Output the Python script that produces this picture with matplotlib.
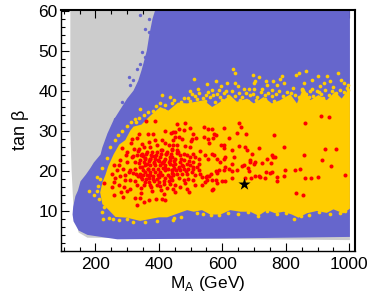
import matplotlib
matplotlib.use("Agg")
import matplotlib.pyplot as plt
from matplotlib.ticker import MultipleLocator

plt.rcParams["font.family"] = ["Liberation Sans", "DejaVu Sans"]
plt.rcParams["mathtext.fontset"] = "custom"
plt.rcParams["mathtext.rm"] = "Liberation Sans"

# obszary (M_A, tan beta)
gray_x = [121, 400, 1002, 1002, 175, 147, 130, 125, 121]
gray_y = [60.3, 60.3, 60.3, 2.6, 3.2, 4.5, 12, 20, 30]

blue_x = [389, 380, 370, 362, 352, 345, 335, 320, 300, 284, 257, 238, 222, 216, 195, 184, 170, 153, 145, 137, 130, 128,
          131, 147, 175, 269, 600, 1002, 1002]
blue_y = [60.3, 58, 54, 50, 47, 45, 42.5, 40, 38, 36, 32.6, 29.3, 25.8, 24, 22, 20.6, 19, 17.3, 15, 13.6, 11, 9,
          7.3, 5, 3.9, 2.8, 3.0, 3.4, 60.3]

yellow_x = [215, 222, 232, 240, 257, 275, 294, 310, 320, 345, 370, 404, 430, 460, 489, 541, 568, 594, 625, 646,
            678, 699, 730, 756, 782, 814, 835, 856, 877, 903, 929, 955, 976, 999, 1002, 1002, 999, 981, 950, 929, 898,
            866, 840, 819, 793, 767, 741, 714, 688, 657, 625, 594, 562, 536, 510, 489, 426, 400, 341, 300, 263, 240,
            222]
yellow_y = [14.5, 17, 19, 21, 24, 26.5, 27.6, 30, 31, 31.5, 33.5, 35.9, 35, 37, 36.8, 37.6, 35.9, 37.2, 38.8, 37.2,
            38, 36.8, 38.4, 36.8, 37.6, 39.1, 36.8, 40.8, 37.6, 38.9, 37.6, 39.7, 38, 40.5, 40, 10.5, 10.3, 9.3, 10.3,
            9.4, 9.9, 9.3, 8.2, 9, 9.7, 9.3, 10.1, 8.7, 9.7, 9.7, 10.1, 9, 9, 10.1, 9.7, 10.1, 8.3, 8.3,
            7.4, 8.2, 8.4, 10.3, 11.6]

# pojedyncze punkty poza obszarami
blue_pts_x = [341, 368, 357, 368, 347, 357, 341, 331, 305, 320, 310, 284, 289, 263]
blue_pts_y = [58.8, 58, 55.5, 54.7, 49.6, 48.4, 46.7, 45.5, 43.4, 42.6, 41.3, 37.2, 35.9, 33]

yellow_pts_x = [633, 639, 698, 715, 704, 699, 737, 741, 760, 788, 782, 794, 772, 833, 842, 864, 902, 931, 963, 882,
                940, 974, 982, 997, 856, 512, 553, 580, 616, 639, 597, 648, 499, 524, 554, 568, 589, 613, 669, 685,
                701, 725, 756, 822, 908, 921, 851, 882, 903, 950, 992, 411, 434, 441, 415, 341, 326, 368, 457, 225,
                206, 181, 194, 206, 300,
                # gesta strefa przy gornej krawedzi
                492, 503, 515, 527, 538, 549, 560, 571, 583, 594, 606, 617, 629, 641, 652, 663, 675, 687, 698, 710,
                722, 733, 745, 757, 769, 780, 792, 803, 816, 828, 840, 852, 864, 875, 887, 899, 911, 923, 935, 947,
                959, 971, 983, 995, 497, 521, 545, 577, 600, 622, 655, 680, 706, 735, 762, 790, 812, 846, 872, 895,
                918, 944, 968, 990,
                # lewy brzeg
                285, 298, 312, 327, 338, 352, 366, 380, 392, 405, 420, 447, 470, 480, 262, 272, 247, 235, 222, 214,
                208, 212, 220, 228, 243, 256, 275, 318, 355, 395, 448,
                # dolny brzeg
                540, 565, 590, 618, 648, 680, 712, 742, 772, 800, 825, 848, 872, 905, 938, 972, 985, 520, 470, 445]
yellow_pts_y = [45.5, 44.5, 44, 43.3, 42.4, 41.8, 42.5, 41.4, 42.4, 43.6, 42.8, 41.9, 41.3, 43.8, 44.5, 44.9, 43.6,
                43.7, 44.5, 42.6, 42.4, 42.6, 41.8, 41.5, 41.9, 43, 41.6, 42.5, 42, 42, 41.2, 41.1, 39.9, 40.3, 39.6,
                40.1, 40.1, 39.9, 40.3, 40.3, 40.4, 40.3, 40.1, 40.6, 41.1, 41.8, 40.5, 40.5, 39.7, 40.8, 40.7, 39,
                38.3, 36.8, 35.1, 35.4, 33, 33, 35.9, 7.9, 18.5, 15, 13.8, 14.8, 8,
                38.2, 39.1, 38.6, 39.3, 38.1, 38.8, 38.3, 38.9, 39.2, 38.4, 39.4, 38.6, 39.8, 38.7, 39.3, 38.5, 39.5,
                38.9, 39.2, 38.4, 39.7, 38.8, 39.4, 38.7, 39.1, 39.9, 38.6, 39.6, 39.5, 38.9, 38.5, 40.2, 39.1, 39.8,
                38.7, 40, 39.2, 40.1, 38.9, 39.9, 39.3, 40.2, 39.6, 40.1, 37.4, 37.8, 37.3, 37.1, 37.6, 37.9, 37.7,
                37.5, 37.6, 37.9, 37.4, 37.7, 37.9, 38, 38.3, 37.9, 38.2, 38.1, 37.8, 38.4,
                29.8, 31.2, 32.2, 32.1, 33.2, 33.8, 34.6, 34.9, 36.2, 37, 36.5, 37.6, 37.2, 38.2, 27.7, 28.8, 25.8,
                23.2, 20.6, 17.8, 16.1, 12.9, 9.6, 10.9, 8.2, 7.9, 7.6, 7.2, 7.1, 7.4, 8.1,
                9.2, 8.9, 8.8, 9.5, 9.1, 9.7, 8.7, 9.8, 9.2, 9.4, 8, 8.7, 9, 9.6, 9.2, 9.4, 9.8, 9.5, 8.5, 7.7]

red_x = [912, 935, 859, 764, 794, 924, 957, 856, 755, 766, 761, 742, 915, 726, 752, 943, 796, 830, 846, 738, 755, 750,
         985, 719, 734, 772, 795, 859, 878, 901, 773, 831, 853,
         456, 483, 543, 554, 567, 604, 651, 660, 645, 675, 499, 479, 462, 452, 439, 575, 580, 509, 518, 504, 502, 543,
         556, 572, 622, 557, 595, 604, 605, 654, 671, 714, 630, 677, 692, 638, 686, 703, 700, 687, 629, 661, 668, 645,
         622, 630, 604, 607, 567, 575, 583, 593, 607, 604, 588, 583, 559, 567, 553, 535, 544, 527, 530, 546, 556, 509,
         499, 481, 472, 462, 452, 444, 457, 441, 457, 467, 478, 488, 499, 514, 525, 509, 499, 488, 478, 467, 452, 441,
         446, 462, 478, 493, 509, 525, 520, 504, 488, 472, 457, 441, 446, 462, 478, 493, 509, 514, 530, 483, 467, 452,
         441, 446, 452, 490, 496, 514, 535, 567, 572, 598, 609, 630, 672, 690, 703, 714, 549, 580, 583, 564, 553, 580,
         682, 684,
         358, 387, 338, 365, 383, 420, 446, 315, 331, 347, 368, 389, 410, 431, 446, 420, 300, 321, 336, 352, 373, 394,
         279, 258, 273, 300, 315, 331, 347, 362, 378, 394, 410, 425, 441, 326, 342, 357, 373, 389, 404, 420, 436, 252,
         268, 310, 326, 342, 357, 373, 389, 404, 420, 436, 263, 279, 294, 342, 357, 373, 389, 404, 420, 441, 226, 258,
         273, 294, 310, 326, 347, 368, 383, 399, 420, 436, 252, 289, 310, 331, 352, 373, 394, 415, 436, 258, 281, 286,
         300, 326, 339, 368, 391, 415, 420, 331, 352, 410,
         350, 365, 381, 396, 412, 429, 448, 353, 368, 384, 399, 414, 431, 449, 345, 360, 376, 392, 407, 423, 439, 458,
         349, 364, 380, 396, 411, 428, 445, 463, 355, 370, 386, 401, 417, 433, 335, 318, 305, 287, 472, 484, 495, 506,
         338, 347, 361, 372, 385, 398, 409, 418, 434, 451, 466, 329, 343, 356, 371, 388, 403, 416, 437, 455, 470, 318,
         334, 351, 367, 379, 393, 406, 422, 441, 459, 477, 344, 359, 375, 402, 426, 343, 378, 408, 312, 296, 283]
red_y = [33.7, 33.5, 31.9, 28.9, 25.9, 25.5, 25.4, 23.8, 23.8, 23.5, 23.3, 23, 22.7, 22, 21.9, 21.2, 20.2, 20.2, 20.5,
         19.7, 19.7, 19.4, 19, 18.5, 18.2, 18.4, 18.7, 18.2, 18.2, 18.4, 17.5, 14.5, 13.9,
         31.6, 32, 30.8, 30.3, 30.5, 30.7, 32, 30.8, 29.5, 29.2, 30.6, 30.2, 30.3, 29.7, 29.5, 29.2, 28.8, 29.2, 28.2,
         27.8, 27.4, 28.4, 28, 28.2, 28.2, 26.9, 26.5, 26.3, 25.7, 26.2, 25.9, 25.7, 25.2, 25.1, 24.2, 23.3, 22.7, 22.2,
         21.7, 22.2, 21.6, 21.1, 21.3, 20.2, 20.5, 19.8, 23, 23.3, 24.2, 24, 23, 22.2, 20.9, 20.1, 20.1, 19.4, 18.7,
         17.7, 17.6, 18.4, 17.2, 21.6, 24.9, 23.8, 23, 24.2, 25.9, 26.2, 27.8, 28.4, 28.4, 26.5, 26.3, 25.1, 25.1, 23.8,
         24.2, 23.8, 23.4, 23.4, 23, 22.2, 21.3, 21.7, 22.6, 22.2, 23, 23.4, 21.3, 20.9, 20.5, 20.5, 20.5, 20.1, 20.9,
         19.7, 19.2, 19.2, 19.2, 20.1, 18.8, 18.2, 17.7, 18, 17.7, 18.8, 19.2, 16.8, 15.9, 16.3, 17.6, 15.5, 14.7, 15.5,
         14.7, 16.3, 16.3, 15.1, 15.5, 17.4, 17.4, 18.2, 18.2, 18.2, 18.6, 18.6, 18.4, 17.7, 17, 19.2, 18.7, 19.8, 20.7,
         19.9,
         32.3, 32.3, 29.2, 29.2, 29.2, 29.9, 29.7, 28, 28.2, 26.7, 27.2, 27.6, 27.6, 26.3, 27.6, 26.9, 24.7, 25.5, 25.5,
         25.9, 25.9, 26.3, 22.7, 21.3, 21.3, 22.2, 23.4, 23.8, 24.2, 24.7, 24.7, 24.7, 25.1, 24.7, 25.5, 22.2, 22.6, 23,
         23, 23, 23.4, 23, 23.4, 19.2, 20.1, 20.1, 20.5, 20.9, 21.3, 21.3, 21.3, 21.3, 21.3, 21.7, 18.2, 18.6, 18.8,
         19.2, 19.7, 19.7, 19.7, 19.7, 20.1, 20.1, 16.9, 17.2, 16.3, 17.6, 17.7, 17.4, 18, 18.2, 18, 18.4, 18.2, 18.4,
         15.8, 15.8, 15.5, 16.3, 16.3, 16.5, 16.5, 16.7, 16.7, 13.8, 14.7, 13.4, 14.8, 13.2, 13.2, 12.6, 13, 14.2, 12.6,
         11.3, 12.2, 13,
         20.2, 20.5, 20.3, 20.5, 20.6, 20.5, 20.7, 22.1, 22.3, 22.1, 22.3, 22.2, 22.1, 22.3, 24, 24.1, 24, 23.9, 24.1,
         24.2, 24.1, 24.3, 18.8, 18.9, 18.7, 18.9, 18.8, 19, 19.1, 20.6, 17.2, 17.1, 17.3, 17.2, 17.4, 17.3, 18.6, 19.4,
         19.7, 20.3, 21.4, 19.9, 22.4, 21,
         21.8, 20.9, 21.7, 22.8, 21.9, 22.6, 21.9, 20.7, 22.6, 21.7, 20.1, 19.1, 18.3, 23.1, 19, 23.6, 19.1, 22.5, 18.1,
         20.2, 22.9, 23.7, 25, 23.6, 20.4, 23.7, 18, 25.2, 24.1, 19.4, 24.7, 21.1, 15.6, 17.9, 15.9, 16.1, 15.7, 14.4,
         14.9, 15.2, 26.8, 24, 25.6]

star_x = [668]
star_y = [16.6]

x_ticks = [200, 400, 600, 800, 1000]
y_ticks = [10, 20, 30, 40, 50, 60]

fig = plt.figure(figsize=(3.74, 2.98), dpi=100)
ax = fig.add_axes([60.5 / 374, 1 - 250.5 / 298, 294.5 / 374, 241 / 298])

ax.fill(gray_x, gray_y, color="#cccccc", lw=0, zorder=1)
ax.fill(blue_x, blue_y, color="#6666cc", lw=0, zorder=2)
ax.scatter(blue_pts_x, blue_pts_y, s=6, color="#6666cc", lw=0, zorder=2)
ax.fill(yellow_x, yellow_y, color="#ffcc00", lw=0, zorder=3)
ax.scatter(yellow_pts_x, yellow_pts_y, s=7, color="#ffcc00", lw=0, zorder=3)
ax.scatter(red_x, red_y, s=8.5, color="#ff0000", lw=0, zorder=4)
ax.scatter(star_x, star_y, s=85, marker="*", color="black", lw=0, zorder=5)

ax.set_xlim(90, 1018)
ax.set_ylim(0, 60.3)
ax.set_xticks(x_ticks)
ax.set_yticks(y_ticks)
ax.xaxis.set_minor_locator(MultipleLocator(50))
ax.yaxis.set_minor_locator(MultipleLocator(2))
ax.tick_params(axis="both", which="major", direction="in", length=6, width=0.8, labelsize=12.5, top=True, right=False,
               zorder=6)
ax.tick_params(axis="x", which="major", pad=5)
ax.tick_params(axis="y", which="major", pad=2)
ax.tick_params(axis="both", which="minor", direction="in", length=3, width=0.8, top=True, right=False, zorder=6)
for name, spine in ax.spines.items():
    spine.set_linewidth(1.5 if name in ("top", "right") else 1.0)
    spine.set_zorder(7)

ax.set_xlabel(r"M$_{\mathrm{A}}$ (GeV)", fontsize=12.5, labelpad=1)
ax.set_ylabel("tan β", fontsize=13, labelpad=7)

fig.savefig("out.png", dpi=100)
plt.close(fig)
